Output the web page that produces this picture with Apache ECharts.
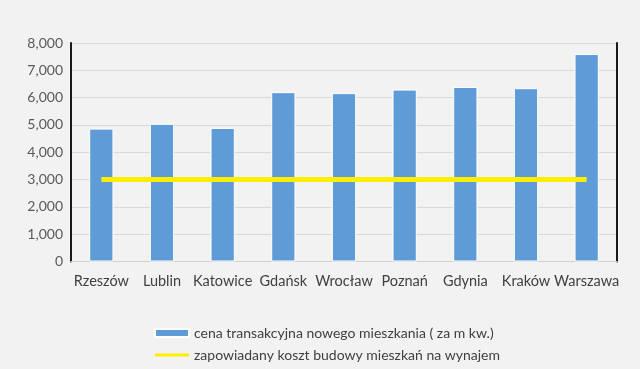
<!DOCTYPE html>
<html>
<head>
<meta charset="utf-8">
<script src="https://cdn.jsdelivr.net/npm/echarts@6/dist/echarts.min.js"></script>
<style>
html,body{margin:0;padding:0;background:#f2f2f2;}
#c{width:640px;height:369px;}
</style>
</head>
<body>
<div id="c"></div>
<script>
const categories = ['Rzeszów','Lublin','Katowice','Gdańsk','Wrocław','Poznań','Gdynia','Kraków','Warszawa'];
const priceValues = [4865, 5040, 4890, 6200, 6165, 6295, 6390, 6345, 7595];
const costValues = [3000, 3000, 3000, 3000, 3000, 3000, 3000, 3000, 3000];
const seriesNames = ['cena transakcyjna nowego mieszkania ( za m kw.)', 'zapowiadany koszt budowy mieszkań na wynajem'];
const yTicks = {min: 0, max: 8000, interval: 1000};

const chart = echarts.init(document.getElementById('c'), null, {renderer: 'canvas'});
const font = 'Lato, "Open Sans", sans-serif';
chart.setOption({
  backgroundColor: '#f2f2f2',
  animation: false,
  textStyle: {fontFamily: font},
  grid: {left: 71, right: 23, top: 43, bottom: 107.5, containLabel: false},
  legend: {
    orient: 'vertical', left: 149, top: 321, itemWidth: 34, itemHeight: 8, itemGap: 8,
    textStyle: {fontFamily: font, fontSize: 14, color: '#404040'},
    data: [
      {name: seriesNames[0], icon: 'rect'},
      {name: seriesNames[1], icon: 'path://M0,0L0,0M34,8L34,8M0,2.5H34V5.5H0Z'}
    ]
  },
  xAxis: {
    type: 'category', data: categories,
    axisLine: {show: true, lineStyle: {color: '#d0d0d0', width: 1}},
    axisTick: {show: false},
    axisLabel: {color: '#404040', fontSize: 14.5, margin: 12, fontFamily: font, interval: 0}
  },
  yAxis: [{
    type: 'value', min: yTicks.min, max: yTicks.max, interval: yTicks.interval,
    axisLine: {show: true, lineStyle: {color: '#1a1a1a', width: 2}},
    axisTick: {show: false},
    axisLabel: {color: '#595959', fontSize: 14, margin: 8, fontFamily: font,
      formatter: v => v.toLocaleString('en-US')},
    splitLine: {lineStyle: {color: '#d9d9d9', width: 1}}
  }, {
    type: 'value', min: yTicks.min, max: yTicks.max, interval: yTicks.interval, position: 'right',
    axisLine: {show: true, lineStyle: {color: '#1a1a1a', width: 2}},
    axisTick: {show: false}, axisLabel: {show: false}, splitLine: {show: false}
  }],
  series: [{
    name: seriesNames[0], type: 'bar', data: priceValues, barWidth: '40%',
    itemStyle: {color: '#5f9cd7', borderColor: '#ffffff', borderWidth: 1}
  }, {
    name: seriesNames[1], type: 'line', data: costValues, symbol: 'none',
    lineStyle: {color: '#ffee00', width: 5}, itemStyle: {color: '#ffee00'}
  }]
});
</script>
</body>
</html>
